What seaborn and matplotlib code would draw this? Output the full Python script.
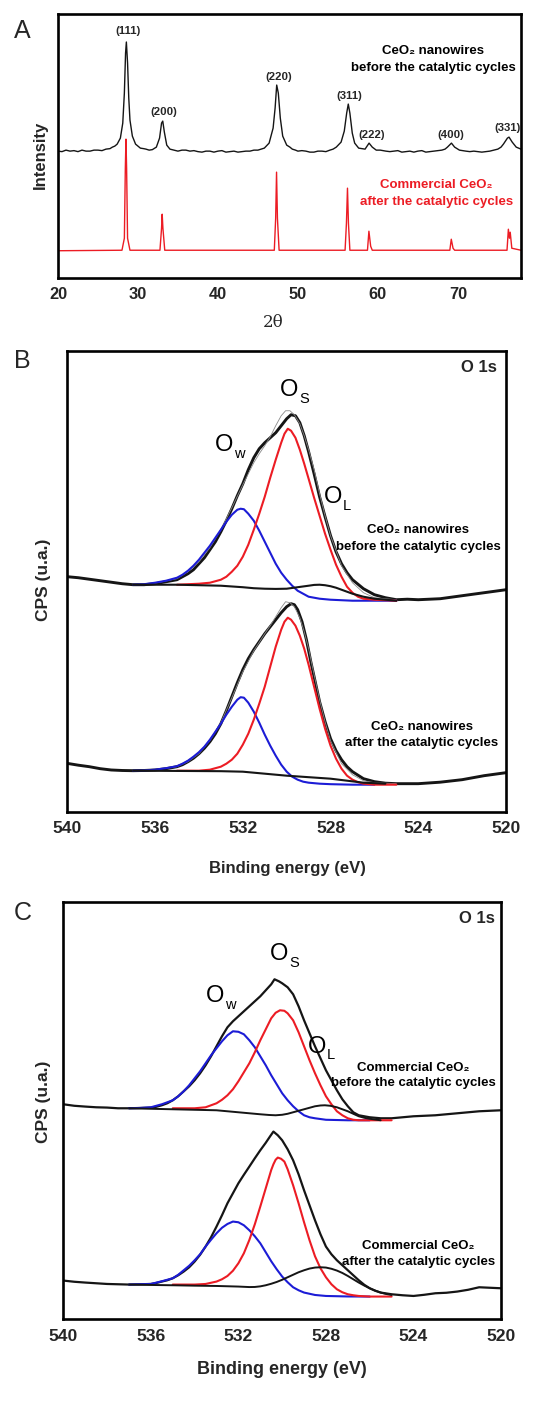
import numpy as np
import pandas as pd
import seaborn as sns
import matplotlib.pyplot as plt

# ---- panel A : XRD (2theta, intensity) ----
xrd_black_2t = [20.0, 20.5, 21, 21.5, 22, 22.5, 23, 23.5, 24, 24.5, 25, 25.5, 26, 26.5, 26.8, 27.1,
                27.4, 27.8, 28.1, 28.3, 28.45, 28.55, 28.7, 28.85, 29.0, 29.3, 29.7, 30.0, 30.3, 30.7,
                31, 31.4, 31.8, 32.3, 32.7, 32.95, 33.1, 33.3, 33.6, 34.0, 34.5, 35, 35.5, 36, 36.5,
                37, 37.5, 38, 38.5, 39, 39.5, 40, 40.5, 41, 41.5, 42, 42.5, 43, 43.5, 44, 44.5,
                45, 45.4, 45.8, 46.4, 46.9, 47.15, 47.35, 47.55, 47.8, 48.1, 48.6, 49.0, 49.3, 49.7,
                50, 50.5, 51, 51.5, 52, 52.5, 53, 53.5, 54, 54.4, 54.8, 55.4, 55.8, 56.1, 56.3,
                56.5, 56.8, 57.1, 57.6, 58.0, 58.4, 58.9, 59.3, 59.8, 60.3, 61, 61.5, 62, 62.5, 63,
                63.5, 64, 64.5, 65, 65.5, 66, 66.5, 67, 67.5, 68, 68.4, 68.7, 69.2, 69.6, 70.2,
                70.6, 71, 71.5, 72, 72.5, 73, 73.5, 74, 74.5, 75, 75.4, 75.7, 76.2, 76.4, 76.8,
                77.3, 77.9]
xrd_black_int = [127, 126.5, 128, 127, 127.5, 126.5, 128, 127, 127, 128, 128, 127.5, 129, 129.5, 131, 132,
                 134, 140, 155, 185, 225, 236, 215, 180, 158, 142, 134, 132, 130, 129.5,
                 129, 128, 128.5, 131, 140, 155, 157, 146, 133, 129, 128, 127, 128, 128, 127,
                 127.5, 126.5, 126, 127, 127, 126, 127, 127.5, 126, 126.5, 127, 126, 126.5, 127, 127, 128,
                 128, 129, 130, 135, 150, 170, 193, 185, 160, 142, 133, 131, 129, 128,
                 127, 127.5, 127, 126, 126, 127, 127, 126.5, 128, 129, 131, 136, 147, 165, 174,
                 165, 145, 135, 130, 129.5, 129, 135, 131, 128, 128, 127, 126.5, 127, 127.5, 126,
                 126.5, 127, 126, 127, 127.5, 126, 126.5, 127, 127.5, 128, 129, 131, 135, 131, 128,
                 127.5, 127, 126.5, 127, 126.5, 126, 126.5, 127, 128, 129, 131, 134, 140, 141, 136,
                 131, 129]

xrd_red_2t = [20.0, 28.0, 28.3, 28.42, 28.5, 28.58, 28.7, 29.0, 32.75, 32.95, 33.03, 33.12, 33.35,
              47.05, 47.22, 47.33, 47.44, 47.65, 55.9, 56.07, 56.2, 56.32, 56.5, 58.7, 58.88,
              59.1, 59.3, 69.0, 69.18, 69.4, 69.6, 76.15, 76.32, 76.45, 76.55, 76.75, 77.9]
xrd_red_int = [27.5, 28, 40, 110, 139, 110, 40, 28, 28, 50, 64, 50, 28,
               28, 60, 106, 60, 28, 28, 55, 90, 55, 28, 28, 47,
               32, 28, 28, 39, 30, 28, 28, 49, 40, 46, 30, 28]

hkl_labels = ['(111)', '(200)', '(220)', '(311)', '(222)', '(400)', '(331)']
hkl_2t = [28.7, 33.2, 47.6, 56.4, 59.2, 69.1, 76.2]
hkl_y = [247, 166, 201, 182, 143, 143, 150]

# ---- panel B : XPS O 1s, CeO2 nanowires (before = B1, after = B2) ----
B1_raw_E = [540, 539.5, 539, 538.5, 538, 537.5, 537, 536.5, 536, 535.5, 535, 534.75, 534.5, 534.25,
            534, 533.75, 533.5, 533.25, 533, 532.75, 532.5, 532.25, 532, 531.75, 531.5, 531.25, 531,
            530.75, 530.5, 530.25, 530, 529.8, 529.6, 529.4, 529.2, 529, 528.75, 528.5, 528.25, 528,
            527.75, 527.5, 527.25, 527, 526.5, 526, 525.5, 525, 524.5, 524, 523, 522, 521, 520]
B1_raw_I = [235, 234, 232.5, 231, 229.5, 228, 227, 227, 228, 230, 232, 235, 238, 242,
            248, 254, 262, 270, 280, 291, 303, 316, 328, 342, 354, 363, 369,
            374, 379, 386, 393, 397, 396, 389, 376, 360, 338, 315, 295, 276,
            260, 248, 239, 232, 223, 217, 214, 212, 212.5, 212, 213, 216, 219, 222]
B1_fit_E = [537, 536, 535, 534.5, 534, 533.5, 533, 532.5, 532, 531.5, 531.25, 531, 530.75, 530.5,
            530.25, 530.05, 529.85, 529.65, 529.4, 529.2, 529, 528.75, 528.5, 528.25, 528, 527.5,
            527, 526.5, 526, 525]
B1_fit_I = [227, 228.5, 233, 240, 250, 264, 282, 304, 327, 349, 358, 366, 375, 386,
            396, 401, 401, 397, 388, 376, 362, 342, 318, 296, 276, 246,
            229, 219, 214, 212]
B1_w_E = [537, 536.5, 536, 535.5, 535, 534.75, 534.5, 534.25, 534, 533.75, 533.5, 533.25, 533,
          532.75, 532.5, 532.25, 532.1, 531.95, 531.75, 531.5, 531.25, 531, 530.75, 530.5, 530.25,
          530, 529.75, 529.5, 529.25, 529, 528.5, 528, 527, 525]
B1_w_I = [227, 227.5, 229, 231, 234, 237, 241, 246, 252, 259, 266, 274, 282,
          290, 297, 302, 303, 302.5, 298, 291, 281, 270, 259, 248, 239,
          232, 226, 221, 218, 215, 213, 212, 211, 211]
B1_s_E = [535, 534, 533.5, 533, 532.75, 532.5, 532.25, 532, 531.75, 531.5, 531.25, 531, 530.75,
          530.5, 530.25, 530.1, 529.95, 529.8, 529.6, 529.4, 529.2, 529, 528.75, 528.5, 528.25,
          528, 527.75, 527.5, 527.25, 527, 526.75, 526.5, 526, 525]
B1_s_I = [227, 228, 229, 232, 235, 240, 246, 255, 267, 282, 298, 315, 334,
          352, 369, 378, 383, 381, 374, 362, 348, 333, 314, 296, 278,
          262, 247, 235, 225, 219, 215, 213, 212, 211]
B1_l_E = [537, 536, 535, 534, 533, 532, 531.5, 531, 530.5, 530, 529.5, 529, 528.75, 528.5, 528.25,
          528, 527.75, 527.5, 527.25, 527, 526.5, 526, 525.5, 525]
B1_l_I = [227, 227, 227, 226.5, 226, 224.5, 223.5, 223, 222.8, 223, 224.5, 226, 226.8, 227, 226.5,
          225.5, 224, 222, 220, 218, 215, 213, 212, 211]

B2_raw_E = [540, 539.5, 539, 538.5, 538, 537.5, 537, 536.5, 536, 535.5, 535, 534.75, 534.5, 534.25,
            534, 533.75, 533.5, 533.25, 533, 532.75, 532.5, 532.25, 532, 531.75, 531.5, 531.25, 531,
            530.75, 530.5, 530.25, 530, 529.8, 529.65, 529.5, 529.3, 529.1, 528.9, 528.7, 528.5,
            528.25, 528, 527.75, 527.5, 527.25, 527, 526.5, 526, 525.5, 525, 524, 523, 522, 521, 520]
B2_raw_I = [48.3, 46.5, 45, 43, 41.7, 41.2, 41, 41.2, 41.7, 43, 45, 47, 50, 53.5,
            58, 63.5, 70, 78, 88, 101, 115, 129, 142, 153, 162, 170, 178,
            185, 192, 199, 205, 208, 207, 202, 190, 172, 150, 130, 110,
            90, 73, 61, 52, 45, 40, 33, 30, 28.5, 28, 28, 29.5, 32, 36, 39]
B2_fit_E = [537, 536, 535, 534.5, 534, 533.5, 533, 532.5, 532, 531.5, 531, 530.75, 530.5, 530.25,
            530.05, 529.85, 529.65, 529.4, 529.2, 529, 528.75, 528.5, 528.25, 528, 527.5, 527,
            526.5, 526, 525]
B2_fit_I = [41, 42, 45, 50, 58, 71, 89, 114, 140, 161, 178, 186, 195, 204,
            210, 209, 205, 194, 180, 163, 137, 112, 90, 71, 48, 37,
            31, 29, 28]
B2_w_E = [537, 536.5, 536, 535.5, 535, 534.75, 534.5, 534.25, 534, 533.75, 533.5, 533.25, 533,
          532.75, 532.5, 532.25, 532.1, 531.95, 531.75, 531.5, 531.25, 531, 530.75, 530.5, 530.25,
          530, 529.75, 529.5, 529.25, 529, 528.5, 528, 527, 526]
B2_w_I = [41, 41.2, 42, 43.5, 45.5, 48, 51, 55, 59.5, 65, 72, 80, 88,
          97, 105, 112, 114.5, 114, 109, 100, 89, 77, 66, 56, 47,
          40, 35, 32, 30, 29, 28, 27.5, 27, 27]
B2_s_E = [535, 534, 533.5, 533, 532.75, 532.5, 532.25, 532, 531.75, 531.5, 531.25, 531, 530.75,
          530.5, 530.25, 530.1, 529.95, 529.8, 529.6, 529.4, 529.2, 529, 528.75, 528.5, 528.25,
          528, 527.75, 527.5, 527.25, 527, 526.75, 526.5, 526, 525]
B2_s_I = [41, 41, 42, 45, 48, 52, 58, 67, 78, 92, 108, 125, 145,
          165, 182, 190, 194, 192, 186, 176, 163, 147, 125, 103, 83,
          66, 53, 43, 36, 32, 29.5, 28, 27, 27]
B2_l_E = [537, 533, 532, 530, 528, 526.5, 525.5]
B2_l_I = [41, 40.5, 40, 36, 33, 29, 28]

# ---- panel C : XPS O 1s, commercial CeO2 (before = C1, after = C2) ----
C1_raw_E = [540, 539.5, 539, 538.5, 538, 537.5, 537, 536.5, 536, 535.75, 535.5, 535.25, 535, 534.75,
            534.5, 534.25, 534, 533.75, 533.5, 533.25, 533, 532.75, 532.5, 532.25, 532, 531.75,
            531.5, 531.25, 531, 530.75, 530.5, 530.35, 530.15, 530, 529.75, 529.5, 529.25, 529,
            528.75, 528.5, 528.25, 528, 527.75, 527.5, 527.25, 527, 526.75, 526.5, 526, 525.5, 525,
            524.5, 524, 523, 522, 521, 520]
C1_raw_I = [215, 213.5, 212.7, 212, 211.7, 211, 211, 211.3, 211.7, 212.5, 214, 216, 219, 223,
            228, 233, 239, 246, 254, 263, 273, 283, 292, 298, 303, 308,
            313, 318, 323, 329, 335, 340, 338, 336, 332, 325, 313, 299,
            286, 273, 261, 249, 239, 229, 220, 213, 207, 204, 202, 201, 201,
            202, 203, 204, 206, 208, 209]
C1_w_E = [537, 536.5, 536, 535.5, 535, 534.75, 534.5, 534.25, 534, 533.75, 533.5, 533.25, 533,
          532.75, 532.5, 532.25, 532, 531.75, 531.5, 531.25, 531, 530.75, 530.5, 530.25, 530,
          529.75, 529.5, 529.25, 529, 528.75, 528.5, 528, 527, 526]
C1_w_I = [211, 211.3, 212, 215, 219, 223, 228, 234, 241, 248, 256, 264, 271,
          278, 284, 288, 287.5, 285, 279, 272, 263, 254, 244, 235, 226,
          219, 213, 208, 204, 202, 201, 199.5, 199, 199]
C1_s_E = [535, 534, 533.5, 533, 532.75, 532.5, 532.25, 532, 531.75, 531.5, 531.25, 531, 530.75,
          530.5, 530.3, 530.1, 529.9, 529.75, 529.5, 529.25, 529, 528.75, 528.5, 528.25, 528,
          527.75, 527.5, 527.25, 527, 526.75, 526.5, 526, 525]
C1_s_I = [211, 211, 212, 216, 219.5, 224, 230, 238, 247, 256, 267, 279, 290,
          301, 306.5, 309, 308.5, 306, 299, 287, 273, 259, 246, 234, 223,
          215, 208, 204, 201, 199.5, 199, 199, 199]
C1_l_E = [537, 536, 535, 534, 533, 532, 531.5, 531, 530.6, 530.3, 530, 529.75, 529.5, 529.25, 529,
          528.75, 528.5, 528.25, 528.05, 527.8, 527.5, 527.25, 527, 526.75, 526.5, 526.25, 526,
          525.5]
C1_l_I = [211, 210.5, 210, 209.5, 209, 207, 206, 205, 204.3, 204, 204.5, 205.5, 207, 208.5, 210,
          211.5, 213, 213.8, 214, 213.5, 212, 210, 208, 205.5, 203, 201.5, 200.5,
          199]

C2_raw_E = [540, 539.5, 539, 538.5, 538, 537.5, 537, 536.5, 536, 535.75, 535.5, 535.25, 535, 534.75,
            534.5, 534.25, 534, 533.75, 533.5, 533.25, 533, 532.75, 532.5, 532.25, 532, 531.75,
            531.5, 531.25, 531, 530.75, 530.55, 530.4, 530.2, 530, 529.75, 529.5, 529.25, 529,
            528.75, 528.5, 528.25, 528, 527.75, 527.5, 527.25, 527, 526.75, 526.5, 526.25, 526,
            525.75, 525.5, 525, 524.5, 524, 523.5, 523, 522.5, 522, 521.5, 521, 520.5, 520]
C2_raw_I = [38.7, 37.5, 36.7, 36, 35.3, 35, 34.7, 35, 35.3, 36.3, 37.7, 39, 41, 44,
            47.7, 52, 57.7, 64.5, 72.7, 82, 92.7, 104, 116, 126, 136, 144.5,
            152.7, 161, 169, 176.5, 183, 187.7, 184, 179, 170, 159, 145, 129,
            114, 99, 85, 72.7, 65, 59, 54, 49, 44, 39, 34.5, 31,
            28.5, 26.7, 25, 24, 23.3, 24.5, 26, 26.5, 27.7, 29.5, 32, 31.5, 31]
C2_w_E = [537, 536.5, 536, 535.5, 535, 534.75, 534.5, 534.25, 534, 533.75, 533.5, 533.25, 533,
          532.75, 532.5, 532.25, 532, 531.75, 531.5, 531.25, 531, 530.75, 530.5, 530.25, 530,
          529.75, 529.5, 529.25, 529, 528.5, 528, 527, 526]
C2_w_I = [34.7, 35, 35.3, 38, 41, 44.5, 49, 53.5, 59, 65, 72.7, 79.5, 86,
          91.5, 95.3, 97.7, 97, 94, 89, 83, 76, 67, 58, 50, 42.7,
          37, 32, 29, 26.7, 24.3, 23.3, 22.8, 22.7]
C2_s_E = [535, 534, 533.5, 533, 532.75, 532.5, 532.25, 532, 531.75, 531.5, 531.25, 531, 530.75,
          530.5, 530.4, 530.3, 530.2, 530.05, 529.9, 529.75, 529.5, 529.25, 529, 528.75, 528.5,
          528.25, 528, 527.75, 527.5, 527.25, 527, 526.75, 526.5, 526, 525]
C2_s_I = [34.7, 34.7, 35.3, 37.7, 40, 43.3, 48.5, 56, 66, 79.3, 95, 112.7, 131,
          149.3, 155, 159.5, 161.7, 160.5, 157.7, 150, 134, 116, 97, 79, 63,
          51, 42, 35, 30, 27, 25, 24, 23.3, 22.7, 22.7]
C2_l_E = [537, 536, 535, 534, 533, 532, 531.5, 531.25, 531, 530.75, 530.5, 530.25, 530, 529.75,
          529.5, 529.25, 529, 528.75, 528.5, 528.25, 528, 527.75, 527.5, 527.25, 527, 526.75,
          526.5, 526.25, 526, 525.75, 525.5, 525.25, 525]
C2_l_I = [34.7, 34.3, 34, 33.6, 33.3, 32.7, 32.2, 32.3, 32.9, 34, 35.5, 37.3, 39.5, 42,
          44.5, 47, 49, 50.7, 51.7, 52, 51.7, 50.5, 48.7, 46.3, 43.3, 40,
          36.7, 33.7, 31, 28.7, 26.7, 25.3, 24.3]

RED = '#ec1c24'
BLUE = '#1c1cd6'
BLK = '#151515'

sns.set_theme(style='white')
plt.rcParams['font.family'] = ['Liberation Sans', 'DejaVu Sans']
plt.rcParams['axes.linewidth'] = 1.9
plt.rcParams['axes.edgecolor'] = 'black'

fig = plt.figure(figsize=(5.43, 14.27), dpi=100)
axA = fig.add_axes([0.1068, 0.8050, 0.8527, 0.1852])
axB = fig.add_axes([0.1240, 0.4312, 0.8079, 0.3230])
axC = fig.add_axes([0.1166, 0.0755, 0.8061, 0.2922])


def line(ax, x, y, color, lw):
    sns.lineplot(x=x, y=y, ax=ax, color=color, lw=lw, sort=False, estimator=None)


def sub_label(ax, E, y, main, sub, ysub):
    ax.text(E, y, main, ha='right', va='center', fontsize=17, color='black')
    ax.text(E - 0.05, ysub, sub, ha='left', va='center', fontsize=10.5, color='black')


def sample_text(ax, E, y1, y2, l1, l2, color='black'):
    ax.text(E, y1, l1, ha='center', va='center', fontsize=9.5, fontweight='bold', color=color)
    ax.text(E, y2, l2, ha='center', va='center', fontsize=9.5, fontweight='bold', color=color)


# --- A ---
line(axA, xrd_black_2t, xrd_black_int, BLK, 1.0)
line(axA, xrd_red_2t, xrd_red_int, RED, 1.0)
axA.set_xlim(20, 77.9)
axA.set_ylim(0, 264)
axA.set_xticks([20, 30, 40, 50, 60, 70])
axA.set_yticks([])
for lab, x, y in zip(hkl_labels, hkl_2t, hkl_y):
    axA.text(x, y, lab, ha='center', va='center', fontsize=8.2, fontweight='bold')
sample_text(axA, 66.9, 226.6, 210, 'CeO\u2082 nanowires', 'before the catalytic cycles')
sample_text(axA, 67.3, 93.3, 76.6, 'Commercial CeO\u2082', 'after the catalytic cycles', RED)
axA.set_xlabel('2\u03b8', fontsize=12, family=['DejaVu Serif'])
axA.xaxis.set_label_coords(0.465, -0.169)
axA.xaxis.label.set_va('center')
axA.set_ylabel('Intensity', fontsize=12, fontweight='bold')
axA.yaxis.set_label_coords(-0.039, 0.467)
axA.yaxis.label.set_va('center')
axA.tick_params(axis='x', length=0, pad=6, labelsize=11.8)

# --- B ---
for E, I, c, w in [(B1_raw_E, B1_raw_I, BLK, 2.1), (B1_fit_E, B1_fit_I, '#8a8a8a', 0.6),
                   (B1_w_E, B1_w_I, BLUE, 1.5), (B1_s_E, B1_s_I, RED, 1.5), (B1_l_E, B1_l_I, BLK, 1.5),
                   (B2_raw_E, B2_raw_I, BLK, 2.1), (B2_fit_E, B2_fit_I, '#8a8a8a', 0.6),
                   (B2_w_E, B2_w_I, BLUE, 1.5), (B2_s_E, B2_s_I, RED, 1.5), (B2_l_E, B2_l_I, BLK, 1.5)]:
    line(axB, E, I, c, w)
axB.set_xlim(540, 520)
axB.set_ylim(0, 461)
axB.set_xticks([540, 536, 532, 528, 524, 520])
axB.set_yticks([])
axB.text(520.42, 444.7, 'O 1s', ha='right', va='center', fontsize=12, fontweight='bold')
sub_label(axB, 529.45, 422.2, 'O', 'S', 412.7)
sub_label(axB, 532.45, 366.7, 'O', 'w', 357.7)
sub_label(axB, 527.48, 314.7, 'O', 'L', 305.7)
sample_text(axB, 524.0, 281.7, 264.7, 'CeO\u2082 nanowires', 'before the catalytic cycles')
sample_text(axB, 523.84, 85, 68.4, 'CeO\u2082 nanowires', 'after the catalytic cycles')
axB.set_xlabel('Binding energy (eV)', fontsize=12, fontweight='bold')
axB.xaxis.set_label_coords(0.502, -0.124)
axB.xaxis.label.set_va('center')
axB.set_ylabel('CPS (u.a.)', fontsize=12.5, fontweight='bold')
axB.yaxis.set_label_coords(-0.0547, 0.5026)
axB.yaxis.label.set_va('center')
axB.tick_params(axis='x', length=0, pad=7, labelsize=12.6)

# --- C ---
for E, I, c, w in [(C1_raw_E, C1_raw_I, BLK, 1.6), (C1_w_E, C1_w_I, BLUE, 1.5),
                   (C1_s_E, C1_s_I, RED, 1.5), (C1_l_E, C1_l_I, BLK, 1.4),
                   (C2_raw_E, C2_raw_I, BLK, 1.6), (C2_w_E, C2_w_I, BLUE, 1.5),
                   (C2_s_E, C2_s_I, RED, 1.5), (C2_l_E, C2_l_I, BLK, 1.4)]:
    line(axC, E, I, c, w)
axC.set_xlim(540, 520)
axC.set_ylim(0, 417)
axC.set_xticks([540, 536, 532, 528, 524, 520])
axC.set_yticks([])
axC.text(520.27, 401, 'O 1s', ha='right', va='center', fontsize=12, fontweight='bold')
sub_label(axC, 529.73, 364.8, 'O', 'S', 356.3)
sub_label(axC, 532.66, 323.3, 'O', 'w', 313.8)
sub_label(axC, 528.0, 272.5, 'O', 'L', 264.3)
sample_text(axC, 524.0, 251, 236, 'Commercial CeO\u2082', 'before the catalytic cycles')
sample_text(axC, 523.77, 73.3, 57.6, 'Commercial CeO\u2082', 'after the catalytic cycles')
axC.set_xlabel('Binding energy (eV)', fontsize=13, fontweight='bold')
axC.xaxis.set_label_coords(0.499, -0.1216)
axC.xaxis.label.set_va('center')
axC.set_ylabel('CPS (u.a.)', fontsize=12.5, fontweight='bold')
axC.yaxis.set_label_coords(-0.0457, 0.522)
axC.yaxis.label.set_va('center')
axC.tick_params(axis='x', length=0, pad=7, labelsize=12.6)

for ax in (axA, axB, axC):
    for lbl in ax.get_xticklabels():
        lbl.set_fontweight('bold')
    for s in ax.spines.values():
        s.set_visible(True)

fig.text(22 / 543, 1 - 31.5 / 1427, 'A', ha='center', va='center', fontsize=18)
fig.text(22.5 / 543, 1 - 361 / 1427, 'B', ha='center', va='center', fontsize=18)
fig.text(22.5 / 543, 1 - 913 / 1427, 'C', ha='center', va='center', fontsize=18)

fig.savefig('out.png', dpi=100, facecolor='white')
